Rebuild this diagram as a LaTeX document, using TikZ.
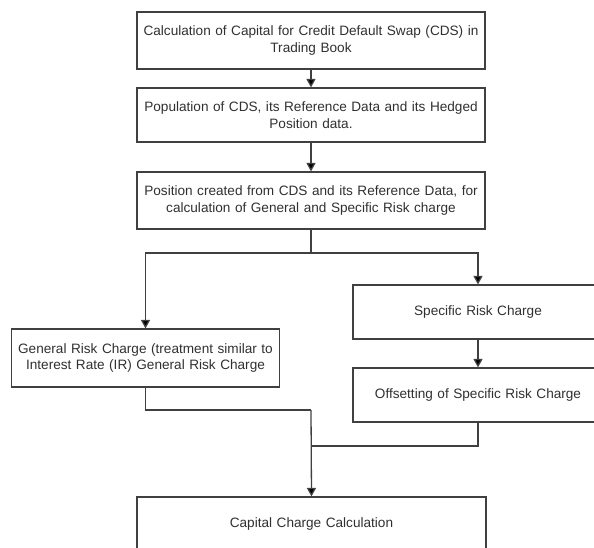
\documentclass[tikz,border=0pt]{standalone}
\usepackage{fontspec}
\setmainfont{Liberation Sans}
\usetikzlibrary{arrows.meta}
\definecolor{linegray}{HTML}{404040}
\definecolor{textgray}{HTML}{303030}
\begin{document}
\begin{tikzpicture}[x=1pt,y=-1pt,
  box/.style={draw=linegray, line width=1.2pt, rectangle, inner sep=0pt, align=center,
    text=textgray, font=\fontsize{13.6}{16.5}\selectfont},
  conn/.style={draw=linegray, line width=1.3pt},
  arr/.style={conn, -{Triangle[width=9pt,length=8.5pt,fill=black]}}]
\useasboundingbox (0,0) rectangle (594,547);
\clip (0,0) rectangle (594,547);
\node[box, minimum width=348pt, minimum height=57pt, text width=346pt] (n1) at (311,40.5)
  {Calculation of Capital for Credit Default Swap (CDS) in\\Trading Book};
\node[box, minimum width=348pt, minimum height=54pt, text width=346pt] (n2) at (311,115)
  {Population of CDS, its Reference Data and its Hedged\\Position data.};
\node[box, minimum width=348pt, minimum height=57pt, text width=346pt] (n3) at (311,200.5)
  {Position created from CDS and its Reference Data, for\\calculation of General and Specific Risk charge};
\node[box, minimum width=268pt, minimum height=58pt, text width=266pt] (gen) at (145.5,358)
  {General Risk Charge (treatment similar to\\Interest Rate (IR) General Risk Charge};
\node[box, minimum width=250pt, minimum height=54pt, text width=248pt] (spec) at (478,312)
  {Specific Risk Charge};
\node[box, minimum width=250pt, minimum height=54pt, text width=248pt] (off) at (478,395)
  {Offsetting of Specific Risk Charge};
\node[box, minimum width=349pt, minimum height=54pt, text width=346pt] (cap) at (311.5,524)
  {Capital Charge Calculation};
\coordinate (j1) at (311,253);
\coordinate (m1) at (311,410);
\coordinate (m2) at (311,446);
\draw[arr] (n1) -- (n2);
\draw[arr] (n2) -- (n3);
\draw[conn] (n3.south) -- (j1);
\draw[arr] (j1) -| (gen.north);
\draw[arr] (j1) -| (spec.north);
\draw[arr] (spec) -- (off);
\draw[conn] (gen.south) |- (m1);
\draw[conn] (off.south) |- (m2);
\draw[arr] (m1) -- (cap.north);
\end{tikzpicture}
\end{document}
